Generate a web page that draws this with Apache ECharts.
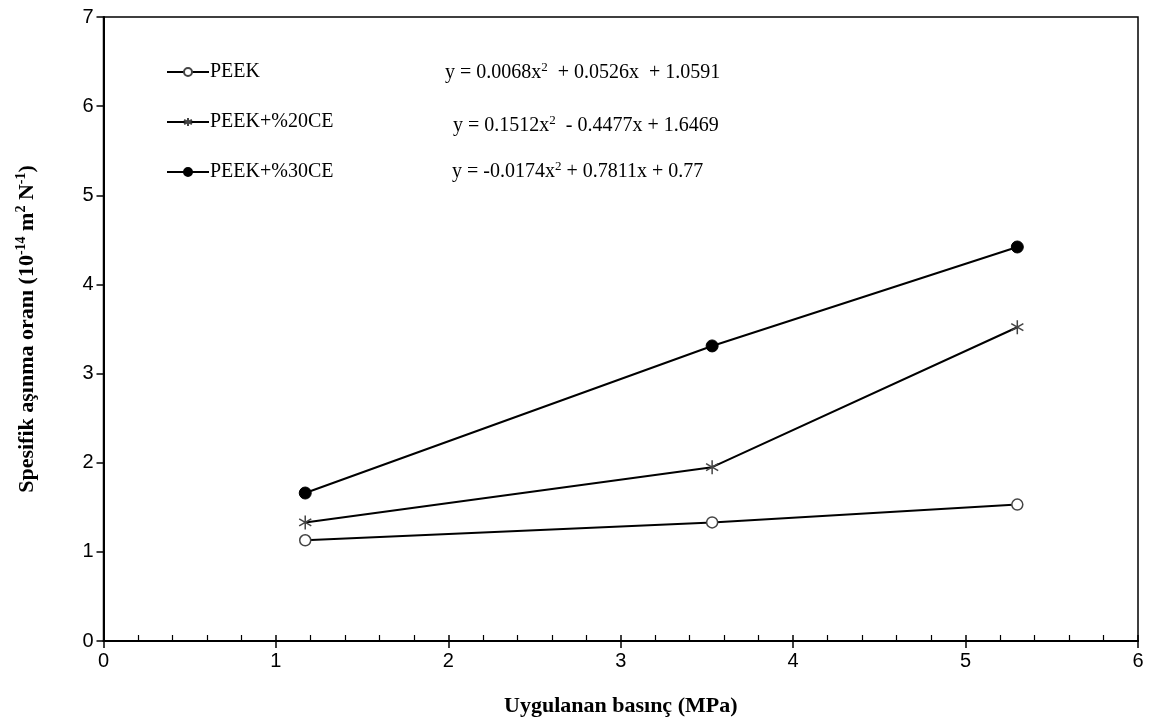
<!DOCTYPE html>
<html>
<head>
<meta charset="utf-8">
<script src="https://cdn.jsdelivr.net/npm/echarts@6/dist/echarts.min.js"></script>
<style>
  html, body { margin: 0; padding: 0; background: #fff; }
  #chart { width: 1152px; height: 728px; }
</style>
</head>
<body>
<div id="chart"></div>
<script>
// basınç (MPa)
var pressure = [1.17, 3.53, 5.3];
// spesifik aşınma oranı
var peek = [1.13, 1.33, 1.53];
var peek20 = [1.33, 1.95, 3.52];
var peek30 = [1.66, 3.31, 4.42];
var seriesNames = ['PEEK', 'PEEK+%20CE', 'PEEK+%30CE'];
// trend denklemleri
var equations = [
  'y = 0.0068x{s|2}  + 0.0526x  + 1.0591',
  'y = 0.1512x{s|2}  - 0.4477x + 1.6469',
  'y = -0.0174x{s|2} + 0.7811x + 0.77'
];

var serif = '"Liberation Serif", "Times New Roman", serif';
var sans = '"Liberation Sans", Arial, sans-serif';
var star = 'path://M0,-10L0,10M-8.66,-5L8.66,5M-8.66,5L8.66,-5';

function pairs(ys) {
  return pressure.map(function (x, i) { return [x, ys[i]]; });
}

var chart = echarts.init(document.getElementById('chart'));

var eqX = [445, 453, 452];
var eqY = [73, 126, 172];
var graphics = equations.map(function (t, i) {
  return {
    type: 'text',
    left: eqX[i],
    top: eqY[i] - 12,
    style: {
      text: '{a|' + t.replace(/\{s\|2\}/, '}{s|2}{a|') + '}',
      rich: {
        a: { fontFamily: serif, fontSize: 20, fill: '#000', lineHeight: 24 },
        s: { fontFamily: serif, fontSize: 13, fill: '#000', verticalAlign: 'top', lineHeight: 24 }
      }
    }
  };
});

chart.setOption({
  animation: false,
  backgroundColor: '#fff',
  grid: {
    left: 103.5, right: 14, top: 17, bottom: 87,
    show: true, borderColor: '#000', borderWidth: 1.5
  },
  legend: {
    orient: 'vertical',
    left: 161, top: 57,
    itemWidth: 42, itemHeight: 10,
    itemGap: 30,
    data: seriesNames,
    textStyle: { fontFamily: serif, fontSize: 20, color: '#000', padding: [0, 0, 0, -4] }
  },
  xAxis: [{
    type: 'value', min: 0, max: 6, interval: 1,
    name: 'Uygulanan basınç (MPa)',
    nameLocation: 'middle', nameGap: 54,
    nameTextStyle: { fontFamily: serif, fontSize: 22, fontWeight: 'bold', color: '#000' },
    axisLine: { onZero: false, lineStyle: { color: '#000', width: 2 } },
    axisTick: { show: true, inside: false, length: 7, lineStyle: { color: '#000', width: 1.5 } },
    axisLabel: { fontFamily: sans, fontSize: 20, color: '#000', margin: 10 },
    splitLine: { show: false }
  }, {
    type: 'value', min: 0, max: 6, interval: 1, position: 'bottom', offset: 0,
    axisLine: { show: false },
    axisTick: { show: true, inside: true, length: 6, lineStyle: { color: '#000', width: 1.5 } },
    minorTick: { show: true, splitNumber: 5, length: 6, lineStyle: { color: '#000', width: 1.2 } },
    axisLabel: { show: false },
    splitLine: { show: false }
  }],
  yAxis: {
    type: 'value', min: 0, max: 7, interval: 1,
    name: '{a|Spesifik aşınma oranı (10}{s|-14}{a| m}{s|2}{a| N}{s|-1}{a|)}',
    nameLocation: 'middle', nameGap: 63, nameRotate: 90,
    nameTextStyle: {
      rich: {
        a: { fontFamily: serif, fontSize: 22, fontWeight: 'bold', color: '#000', lineHeight: 26 },
        s: { fontFamily: serif, fontSize: 14, fontWeight: 'bold', color: '#000', verticalAlign: 'top', lineHeight: 26 }
      }
    },
    axisLine: { show: true, onZero: false, lineStyle: { color: '#000', width: 2 } },
    axisTick: { show: true, inside: false, length: 7, lineStyle: { color: '#000', width: 1.5 } },
    axisLabel: { fontFamily: sans, fontSize: 20, color: '#000', margin: 10 },
    splitLine: { show: false }
  },
  series: [{
    name: seriesNames[0], type: 'line', data: pairs(peek),
    symbol: 'circle', symbolSize: 11,
    lineStyle: { color: '#000', width: 2 },
    itemStyle: { color: '#fff', borderColor: '#444', borderWidth: 1.5 }
  }, {
    name: seriesNames[1], type: 'line', data: pairs(peek20),
    symbol: star, symbolSize: 14, symbolKeepAspect: true,
    lineStyle: { color: '#000', width: 2 },
    itemStyle: { color: '#fff', borderColor: '#444', borderWidth: 1.5 }
  }, {
    name: seriesNames[2], type: 'line', data: pairs(peek30),
    symbol: 'circle', symbolSize: 12,
    lineStyle: { color: '#000', width: 2 },
    itemStyle: { color: '#000', borderColor: '#000', borderWidth: 1 }
  }],
  graphic: graphics
});
</script>
</body>
</html>
